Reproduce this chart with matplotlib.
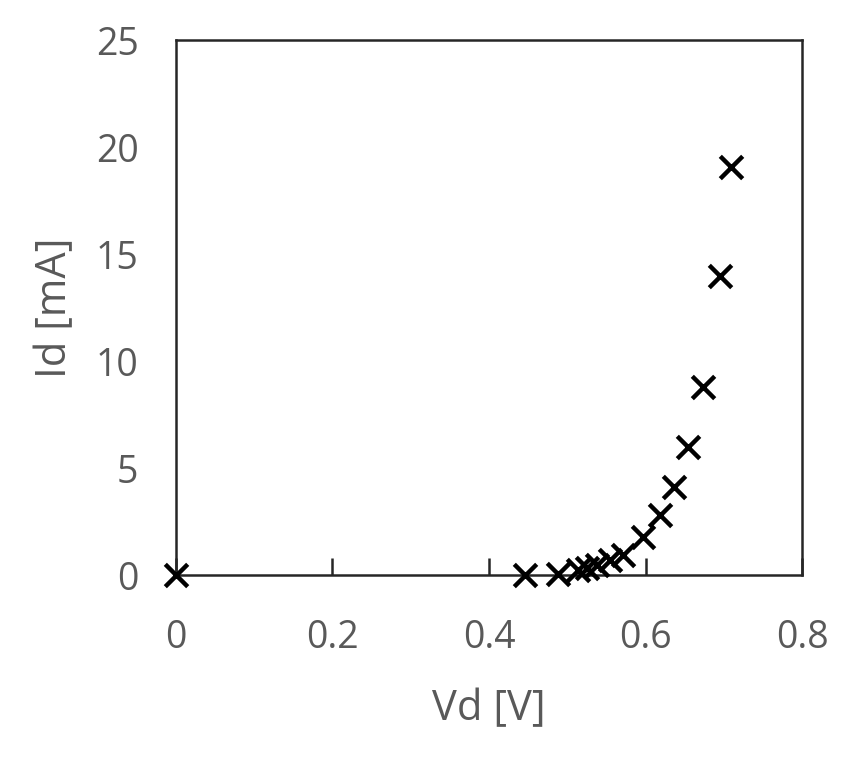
import matplotlib.pyplot as plt

# Diode I-V measurement
vd = [0.0, 0.446, 0.488, 0.514, 0.525, 0.538, 0.555, 0.571, 0.597, 0.618, 0.636, 0.654, 0.673, 0.695, 0.709]
id_ma = [0.0, 0.0, 0.05, 0.23, 0.35, 0.47, 0.7, 0.93, 1.78, 2.8, 4.1, 5.98, 8.8, 13.97, 19.07]

plt.rcParams['font.family'] = ['Open Sans', 'DejaVu Sans']
gray = "#595959"

fig = plt.figure(figsize=(8.48, 7.58), dpi=100)
ax = fig.add_axes([0.2075, 0.2414, 0.7383, 0.7058])

ax.scatter(vd, id_ma, marker="x", s=260, linewidths=3.2, color="black", zorder=3, clip_on=False)

ax.set_xlim(0, 0.8)
ax.set_ylim(0, 25)
ax.set_xticks([0, 0.2, 0.4, 0.6, 0.8])
ax.set_xticklabels(["0", "0.2", "0.4", "0.6", "0.8"])
ax.set_yticks([0, 5, 10, 15, 20, 25])

for side in ["left", "right", "top", "bottom"]:
    ax.spines[side].set_color("#262626")
    ax.spines[side].set_linewidth(1.8)

ax.tick_params(axis="x", direction="in", length=12, width=1.8, color="#262626",
               labelsize=27, labelcolor=gray, pad=32)
ax.tick_params(axis="y", length=0, labelsize=27, labelcolor=gray, pad=27)

ax.set_xlabel("Vd [V]", fontsize=30, color=gray, labelpad=22)
ax.set_ylabel("Id [mA]", fontsize=30, color=gray, labelpad=14)

fig.savefig("out.png", dpi=100)
